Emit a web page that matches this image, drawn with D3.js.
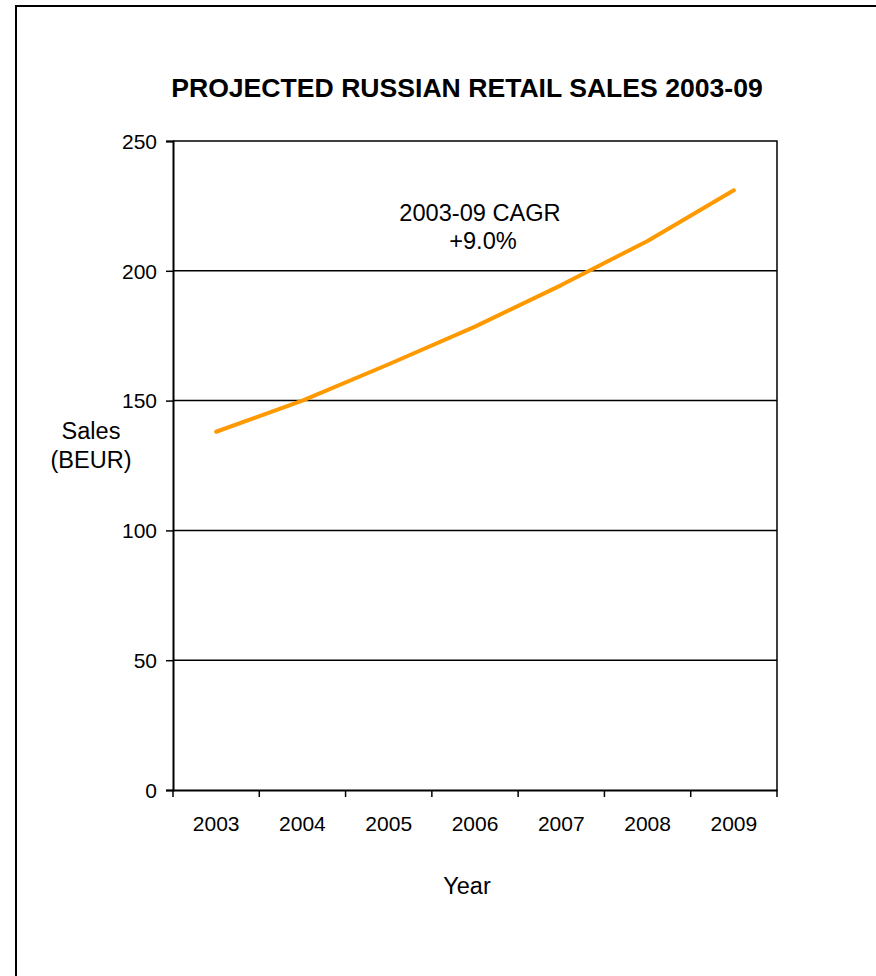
<!DOCTYPE html>
<html>
<head>
<meta charset="utf-8">
<script src="https://cdn.jsdelivr.net/npm/d3@7"></script>
<style>
  html, body { margin: 0; padding: 0; background: #fff; }
  svg { display: block; }
  text { font-family: "Liberation Sans", Arial, sans-serif; fill: #000; }
</style>
</head>
<body>
<script>
// Russian retail sales, billions of euros (projected)
const years = ["2003", "2004", "2005", "2006", "2007", "2008", "2009"];
const sales = [138, 150, 164, 178.5, 194.5, 211.5, 231];
const yTicks = [0, 50, 100, 150, 200, 250];
const titleText = "PROJECTED RUSSIAN RETAIL SALES 2003-09";
const noteLines = ["2003-09 CAGR", "+9.0%"];

const W = 876, H = 976;
const plot = { left: 173, right: 777, top: 141, bottom: 790 };
const FONT = "Liberation Sans, Arial, sans-serif";

const svg = d3.select("body").append("svg")
  .attr("width", W).attr("height", H);

// outer frame
svg.append("rect")
  .attr("x", 16).attr("y", 6)
  .attr("width", W + 20).attr("height", H + 20)
  .attr("fill", "none").attr("stroke", "#000").attr("stroke-width", 2);

const x = d3.scaleBand().domain(years).range([plot.left, plot.right]);
const y = d3.scaleLinear().domain([0, 250]).range([plot.bottom, plot.top]);

// horizontal gridlines
svg.append("g").selectAll("line")
  .data(yTicks.filter(d => d > 0 && d < 250))
  .join("line")
  .attr("x1", plot.left).attr("x2", plot.right)
  .attr("y1", d => y(d)).attr("y2", d => y(d))
  .attr("stroke", "#000").attr("stroke-width", 1.5);

// plot frame (top and right)
svg.append("path")
  .attr("d", `M${plot.left},${y(250)}H${plot.right}V${y(0)}`)
  .attr("fill", "none").attr("stroke", "#000").attr("stroke-width", 1.5);

// y axis
const yAxis = svg.append("g")
  .attr("transform", `translate(${plot.left},0)`)
  .call(d3.axisLeft(y).tickValues(yTicks).tickSize(7).tickPadding(9));
yAxis.select(".domain").attr("stroke-width", 2);
yAxis.selectAll(".tick line").attr("stroke-width", 1.5);
yAxis.selectAll("text")
  .attr("font-size", 21).attr("font-family", FONT)
  .attr("dy", "0.35em");

// x axis: ticks sit on the band boundaries
const xAxis = svg.append("g")
  .attr("transform", `translate(0,${plot.bottom})`)
  .call(d3.axisBottom(x).tickSize(0).tickPadding(26));
xAxis.select(".domain").attr("stroke-width", 2);
xAxis.selectAll("text")
  .attr("font-size", 21).attr("font-family", FONT);
const bounds = years.map(d => x(d)).concat([x(years[years.length - 1]) + x.bandwidth()]);
xAxis.selectAll(".bound")
  .data(bounds)
  .join("line")
  .attr("class", "bound")
  .attr("x1", d => d).attr("x2", d => d)
  .attr("y1", 0).attr("y2", 7)
  .attr("stroke", "#000").attr("stroke-width", 1.5);

// sales line
const line = d3.line()
  .x((d, i) => x(years[i]) + x.bandwidth() / 2)
  .y(d => y(d));
svg.append("path")
  .datum(sales)
  .attr("d", line)
  .attr("fill", "none")
  .attr("stroke", "#FF9900")
  .attr("stroke-width", 4)
  .attr("stroke-linecap", "round")
  .attr("stroke-linejoin", "round");

// title
svg.append("text")
  .attr("x", 467).attr("y", 97)
  .attr("text-anchor", "middle")
  .attr("font-size", 26.6).attr("font-weight", "bold")
  .text(titleText);

// growth note
svg.append("text")
  .attr("x", 480).attr("y", 221)
  .attr("text-anchor", "middle").attr("font-size", 23.6)
  .text(noteLines[0]);
svg.append("text")
  .attr("x", 483).attr("y", 249)
  .attr("text-anchor", "middle").attr("font-size", 23.6)
  .text(noteLines[1]);

// axis titles
const yTitle = svg.append("text")
  .attr("text-anchor", "middle").attr("font-size", 23.5);
yTitle.append("tspan").attr("x", 91).attr("y", 439).text("Sales");
yTitle.append("tspan").attr("x", 91).attr("y", 468).text("(BEUR)");

svg.append("text")
  .attr("x", 467).attr("y", 894)
  .attr("text-anchor", "middle").attr("font-size", 23.5)
  .text("Year");
</script>
</body>
</html>
